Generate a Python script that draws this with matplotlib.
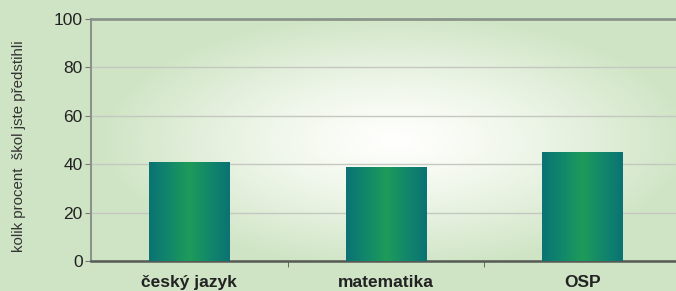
import matplotlib
matplotlib.use("Agg")
import matplotlib.pyplot as plt
import numpy as np
from matplotlib.colors import LinearSegmentedColormap

plt.rcParams['font.family'] = ['Liberation Sans', 'DejaVu Sans']

categories = ["český jazyk", "matematika", "OSP"]
values = [40.5, 38.8, 44.8]
yticks = [0, 20, 40, 60, 80, 100]
ylabel = "kolik procent  škol jste předstihli"

W, H = 676, 291
fig = plt.figure(figsize=(W / 100, H / 100), dpi=100)

# background: light green with a white glow in the middle
bg = fig.add_axes([0, 0, 1, 1], zorder=-10)
yy, xx = np.mgrid[0:H, 0:W]
r = np.sqrt(((xx - 395) / 290.0) ** 2 + ((yy - 140) / 125.0) ** 2)
r = np.clip(r, 0, 1) ** 1.3
green = np.array([0.815, 0.898, 0.775])
white = np.array([1.0, 1.0, 0.99])
img = white[None, None, :] * (1 - r[..., None]) + green[None, None, :] * r[..., None]
bg.imshow(img, aspect='auto', extent=[0, 1, 0, 1], origin='upper')
bg.axis('off')

ax = fig.add_axes([91 / W, 30 / H, 590 / W, 242 / H])
ax.set_facecolor('none')

x = np.arange(len(categories))
bars = ax.bar(x, values, width=0.41, color='none', zorder=3)

bar_cmap = LinearSegmentedColormap.from_list(
    'bar', ['#0b7373', '#12886a', '#1e9b5a', '#12886a', '#0b7373'])
grad = np.linspace(0, 1, 64)[None, :]
for b in bars:
    ax.imshow(grad, cmap=bar_cmap, aspect='auto', zorder=3,
              extent=[b.get_x(), b.get_x() + b.get_width(), 0, b.get_height()])

ax.set_xlim(-0.5, len(categories) - 0.5)
ax.set_ylim(0, 100)
ax.set_yticks(yticks)
ax.set_yticklabels([str(t) for t in yticks], fontsize=12.5, color='#222222')
ax.set_xticks(x)
ax.set_xticklabels(categories, fontsize=12.5, fontweight='bold', color='#222222')
ax.tick_params(axis='x', length=0, pad=10)
ax.set_xticks(x[:-1] + 0.5, minor=True)
ax.tick_params(axis='x', which='minor', length=4, color='#555555', direction='out')
ax.tick_params(axis='y', length=4, color='#777777', pad=2)

ax.grid(axis='y', color='#c4c8c0', linewidth=1.0, zorder=1)
ax.set_axisbelow(True)

ax.spines['top'].set_color('#8c948a')
ax.spines['top'].set_linewidth(2.0)
ax.spines['left'].set_color('#8c948a')
ax.spines['left'].set_linewidth(1.5)
ax.spines['bottom'].set_color('#555a55')
ax.spines['bottom'].set_linewidth(1.8)
ax.spines['right'].set_visible(False)

fig.text(19 / W, 145 / H, ylabel, rotation=90, ha='center', va='center',
         fontsize=10.8, color='#333333')

fig.savefig('out.png', dpi=100)
